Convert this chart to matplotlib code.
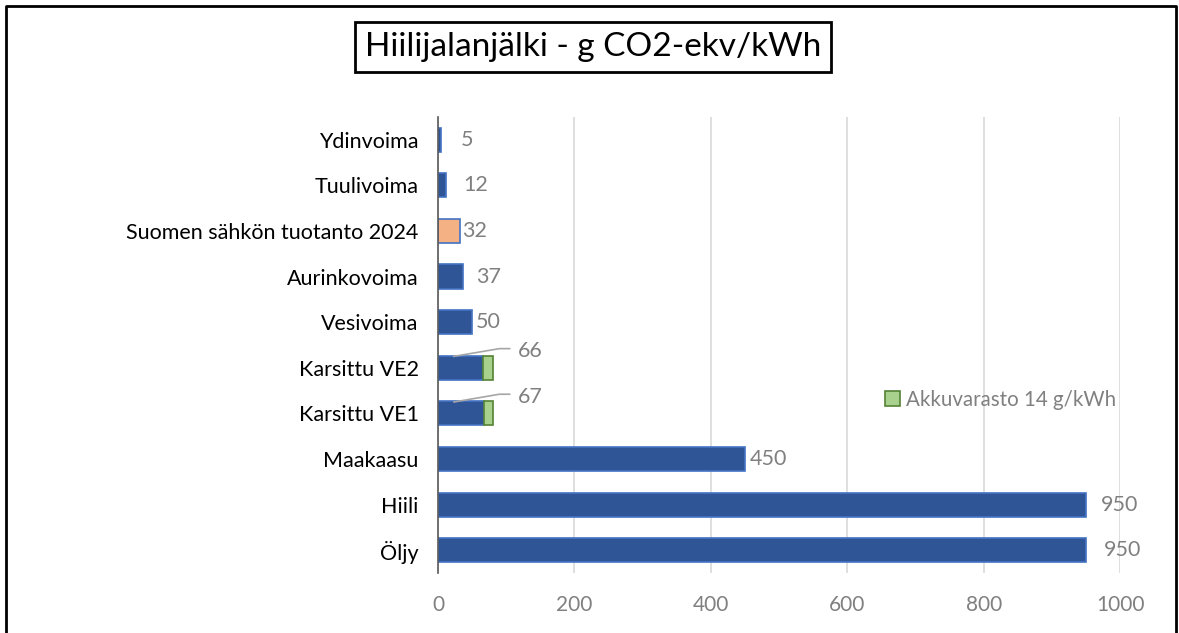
import matplotlib.pyplot as plt
from matplotlib.lines import Line2D
import numpy as np

# data (top to bottom)
categories = ["Ydinvoima", "Tuulivoima", "Suomen sähkön tuotanto 2024", "Aurinkovoima",
              "Vesivoima", "Karsittu VE2", "Karsittu VE1", "Maakaasu", "Hiili", "Öljy"]
values = [5, 12, 32, 37, 50, 66, 67, 450, 950, 950]
battery = [0, 0, 0, 0, 0, 14, 14, 0, 0, 0]
highlight = "Suomen sähkön tuotanto 2024"
battery_label = "Akkuvarasto 14 g/kWh"
title = "Hiilijalanjälki - g CO2-ekv/kWh"
xticks = [0, 200, 400, 600, 800, 1000]

plt.rcParams['font.family'] = ['Lato', 'DejaVu Sans']

BLUE = "#2F5597"
BLUE_EDGE = "#4472C4"
ORANGE = "#F4B183"
GREEN = "#A9D18E"
GREEN_EDGE = "#548235"
GRAY = "#808080"

fig = plt.figure(figsize=(11.79, 6.33), dpi=100)
ax = fig.add_axes([0.3715, 0.0948, 0.5785, 0.7204])

y = np.arange(len(categories))
colors = [ORANGE if c == highlight else BLUE for c in categories]
ax.barh(y, values, height=0.53, color=colors, edgecolor=BLUE_EDGE, linewidth=1.2, zorder=3)
for i, b in enumerate(battery):
    if b > 0:
        ax.barh(y[i], b, left=values[i], height=0.53, color=GREEN,
                edgecolor=GREEN_EDGE, linewidth=1.2, zorder=3)

ax.set_ylim(len(categories) - 0.5, -0.5)
ax.set_xlim(0, 1000)
ax.set_yticks(y)
ax.set_yticklabels(categories, fontsize=15.5, color="black")
ax.set_xticks(xticks)
ax.set_xticklabels([str(t) for t in xticks], fontsize=15, color=GRAY)
ax.tick_params(axis="y", length=0, pad=14)
ax.tick_params(axis="x", length=0, pad=16)
ax.grid(axis="x", color="#D9D9D9", linewidth=1.2, zorder=0)
for s in ["top", "right", "bottom"]:
    ax.spines[s].set_visible(False)
ax.spines["left"].set_color("#595959")
ax.spines["left"].set_linewidth(1.2)
ax.spines["left"].set_zorder(4)

# value labels
offsets = [28, 25, 4, 19, 6, 0, 0, 7, 22, 26]
for i, v in enumerate(values):
    if battery[i] > 0:
        # label with leader line
        x0 = v * 0.35
        ax.plot([x0, 90, 105], [y[i] - 0.25, y[i] - 0.42, y[i] - 0.42],
                color="#A6A6A6", linewidth=1.2, zorder=4, clip_on=False)
        ax.text(117, y[i] - 0.36, str(v), va="center", ha="left",
                fontsize=15.5, color=GRAY)
    else:
        ax.text(v + battery[i] + offsets[i], y[i], str(v), va="center", ha="left",
                fontsize=15.5, color=GRAY, clip_on=False)

# legend entry for battery storage
leg = ax.legend([plt.Rectangle((0, 0), 1, 1, facecolor=GREEN, edgecolor=GREEN_EDGE, linewidth=1.2)],
                [battery_label], loc="center left", bbox_to_anchor=(0.641, 0.38),
                frameon=False, fontsize=14.8, handlelength=0.7, handleheight=0.7,
                handletextpad=0.3, labelcolor=GRAY, borderpad=0)

# title with box
fig.text(0.503, 0.925, title, ha="center", va="center", fontsize=24, color="black",
         bbox=dict(boxstyle="square,pad=0.3", facecolor="white", edgecolor="black", linewidth=2))

# outer frame (open at the bottom)
fig.add_artist(Line2D([0.0055, 0.0055, 0.9975, 0.9975], [0, 0.99, 0.99, 0],
                      transform=fig.transFigure, color="black", linewidth=2))

fig.savefig("out.png", dpi=100)
